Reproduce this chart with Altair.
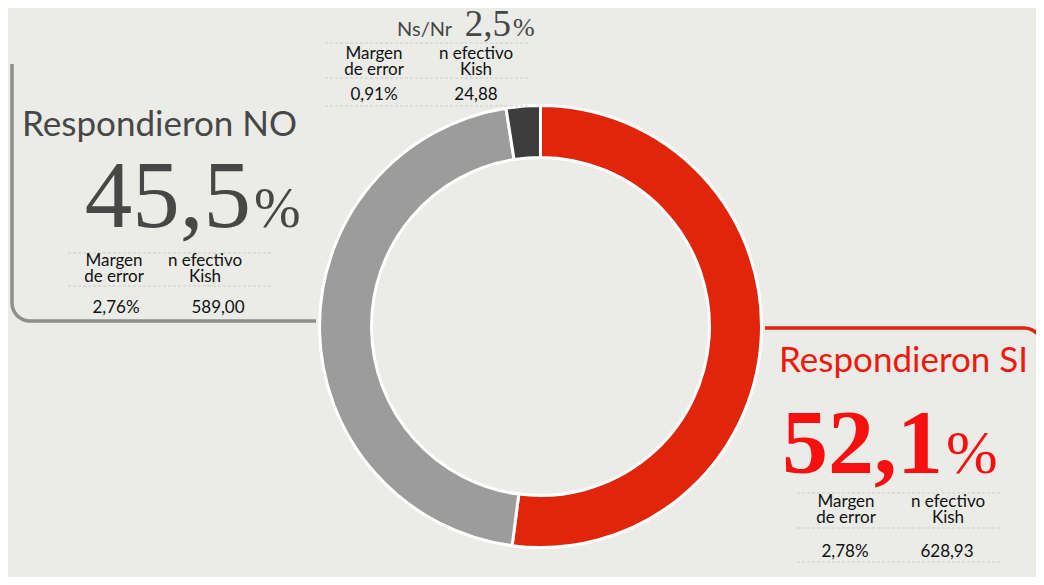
import math
import altair as alt
import pandas as pd

# ---- data ----
categories = ["Respondieron SI", "Respondieron NO", "Ns/Nr"]
shares = [52.1, 45.5, 2.5]
slice_colors = ["#e0250b", "#9c9c9c", "#3d3d3d"]
pct_labels = ["52,1", "45,5", "2,5"]
margins = ["2,78%", "2,76%", "0,91%"]
kish = ["628,93", "589,00", "24,88"]
head_margin = "Margen\nde error"
head_kish = "n efectivo\nKish"
ns_label = "Ns/Nr"

BG = "#ebebe8"
SANS = "Lato"
SERIF = "Liberation Serif"


def X(v):
    return v - 8


def Y(v):
    return v - 8


def one():
    return pd.DataFrame({"a": [0]})


def txt(s, x, y, size, color, font=SANS, align="center", weight="normal", lh=None):
    kw = dict(align=align, baseline="alphabetic", fontSize=size, font=font,
              color=color, fontWeight=weight)
    if lh is not None:
        kw["lineBreak"] = "\n"
        kw["lineHeight"] = lh
    return alt.Chart(pd.DataFrame({"t": [s]})).mark_text(**kw).encode(
        x=alt.value(X(x)), y=alt.value(Y(y)), text="t:N")


def hline(x1, x2, y, color, width, dash=None):
    kw = dict(color=color, strokeWidth=width)
    if dash:
        kw["strokeDash"] = dash
    return alt.Chart(one()).mark_rule(**kw).encode(
        x=alt.value(X(x1)), x2=alt.value(X(x2)), y=alt.value(Y(y)))


def vline(x, y1, y2, color, width):
    return alt.Chart(one()).mark_rule(color=color, strokeWidth=width).encode(
        x=alt.value(X(x)), y=alt.value(Y(y1)), y2=alt.value(Y(y2)))


def corner(cx, cy, r, t0, t1, color, width):
    return alt.Chart(one()).mark_arc(
        outerRadius=r + width / 2, innerRadius=r - width / 2,
        theta=t0, theta2=t1, color=color
    ).encode(x=alt.value(X(cx)), y=alt.value(Y(cy)))


layers = []

# brackets
GRAY_LINE = "#8e8e8e"
RED_LINE = "#e2260e"
layers += [
    vline(12, 64, 303, GRAY_LINE, 3.5),
    corner(30, 303, 18, math.pi, 1.5 * math.pi, GRAY_LINE, 3.5),
    hline(30, 316, 321, GRAY_LINE, 3.5),
    hline(765, 1024, 328, RED_LINE, 3.5),
    corner(1024, 346, 18, 0, 0.5 * math.pi, RED_LINE, 3.5),
    vline(1042, 346, 600, RED_LINE, 3.5),
]

# donut
df = pd.DataFrame({"cat": categories, "share": shares, "ord": [0, 1, 2]})
donut = alt.Chart(df).mark_arc(
    outerRadius=221, innerRadius=169, stroke="white", strokeWidth=3
).encode(
    theta=alt.Theta("share:Q", stack=True),
    order=alt.Order("ord:Q"),
    color=alt.Color("cat:N", scale=alt.Scale(domain=categories, range=slice_colors), legend=None),
    x=alt.value(X(540.5)),
    y=alt.value(Y(326.5)),
)
layers.append(donut)

DOT = "#cdcdca"
LBL = "#111111"


def block(x1, x2, ys, c1, c2, v1, v2, yb1, yv, i):
    out = [hline(x1, x2, yy, DOT, 1, [3, 2]) for yy in ys]
    out += [
        txt(head_margin, c1, yb1, 17, LBL, lh=16),
        txt(head_kish, c2, yb1, 17, LBL, lh=16),
        txt(margins[i], v1, yv, 17, LBL),
        txt(kish[i], v2, yv, 17, LBL),
    ]
    return out


# NO block
NO_C = "#474747"
layers += [
    txt(categories[1], 22, 136, 35, NO_C, align="left"),
    txt(pct_labels[1], 251, 227, 95, NO_C, font=SERIF, align="right"),
    txt("%", 254, 227, 56, NO_C, font=SERIF, align="left"),
]
layers += block(68, 272, [253, 286], 114, 205, 116, 218, 266, 313, 1)

# Ns/Nr block
layers += [
    txt(ns_label, 397, 36, 20, NO_C, align="left"),
    txt(pct_labels[2], 511, 36, 37, NO_C, font=SERIF, align="right"),
    txt("%", 513, 36, 26, NO_C, font=SERIF, align="left"),
]
layers += block(325, 530, [43, 78, 106], 374, 476, 374, 476, 59, 100, 2)

# SI block
SI_C = "#ee1a0e"
BIG_RED = "#f80f0f"
layers += [
    txt(categories[0], 779, 372, 35, SI_C, align="left"),
    txt(pct_labels[0], 943, 473, 92, BIG_RED, font=SERIF, align="right", weight="bold"),
    txt("%", 946, 473, 62, BIG_RED, font=SERIF, align="left"),
]
layers += block(797, 1002, [493, 528, 562], 846, 948, 845, 947, 507, 557, 0)

chart = alt.layer(*layers).properties(
    width=1028, height=569, background=BG, padding=0,
    autosize=alt.AutoSizeParams(type="none"),
).configure_view(stroke=None)

chart.save("out.html", embed_options={"renderer": "svg", "actions": False})
